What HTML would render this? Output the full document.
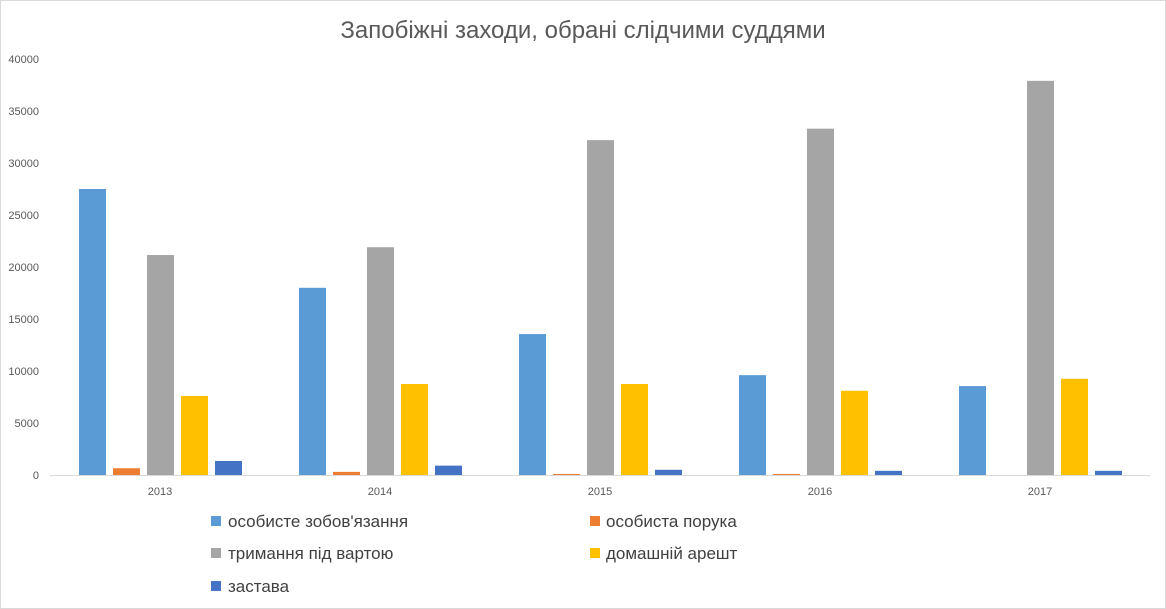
<!DOCTYPE html><html><head><meta charset="utf-8"><style>body{margin:0;background:#fff}svg{display:block;font-family:"Liberation Sans","DejaVu Sans",sans-serif}</style></head><body>
<svg width="1166" height="609" xmlns="http://www.w3.org/2000/svg">
<rect x="0.5" y="0.5" width="1165" height="608" fill="#fff" stroke="#d9d9d9"/>
<text x="583" y="38" text-anchor="middle" font-size="24" fill="#595959">Запобіжні заходи, обрані слідчими суддями</text>
<g font-size="11" fill="#595959" text-anchor="end">
<text x="39" y="479">0</text><text x="39" y="427">5000</text><text x="39" y="375">10000</text><text x="39" y="323">15000</text><text x="39" y="271">20000</text><text x="39" y="219">25000</text><text x="39" y="167">30000</text><text x="39" y="115">35000</text><text x="39" y="63">40000</text>
</g>
<line x1="50" y1="475.5" x2="1150" y2="475.5" stroke="#d9d9d9"/>
<g id="bars"></g>
<g font-size="11" fill="#595959" text-anchor="middle">
<text x="160" y="495">2013</text><text x="380" y="495">2014</text><text x="600" y="495">2015</text><text x="820" y="495">2016</text><text x="1040" y="495">2017</text>
</g>
<g font-size="17" fill="#404040">
<rect x="211" y="516" width="10" height="10" fill="#5b9bd5"/><text x="228" y="527">особисте зобов'язання</text>
<rect x="590" y="516" width="10" height="10" fill="#ed7d31"/><text x="606" y="527">особиста порука</text>
<rect x="211" y="548" width="10" height="10" fill="#a5a5a5"/><text x="228" y="559">тримання під вартою</text>
<rect x="590" y="548" width="10" height="10" fill="#ffc000"/><text x="606" y="559">домашній арешт</text>
<rect x="211" y="581" width="10" height="10" fill="#4472c4"/><text x="228" y="592">застава</text>
</g>
</svg>
<script>
var d=[[27500,650,21150,7600,1350],[18000,300,21900,8750,900],[13550,100,32200,8750,500],[9600,100,33300,8100,400],[8550,0,37900,9250,400]];
var c=["#5b9bd5","#ed7d31","#a5a5a5","#ffc000","#4472c4"];var g=document.getElementById("bars"),s="";
d.forEach(function(r,i){r.forEach(function(v,j){var h=v*0.0104,x=79+i*220+j*34;s+='<rect x="'+x+'" y="'+(475-h)+'" width="27" height="'+h+'" fill="'+c[j]+'"/>';});});
g.innerHTML=s;
</script>
</body></html>
